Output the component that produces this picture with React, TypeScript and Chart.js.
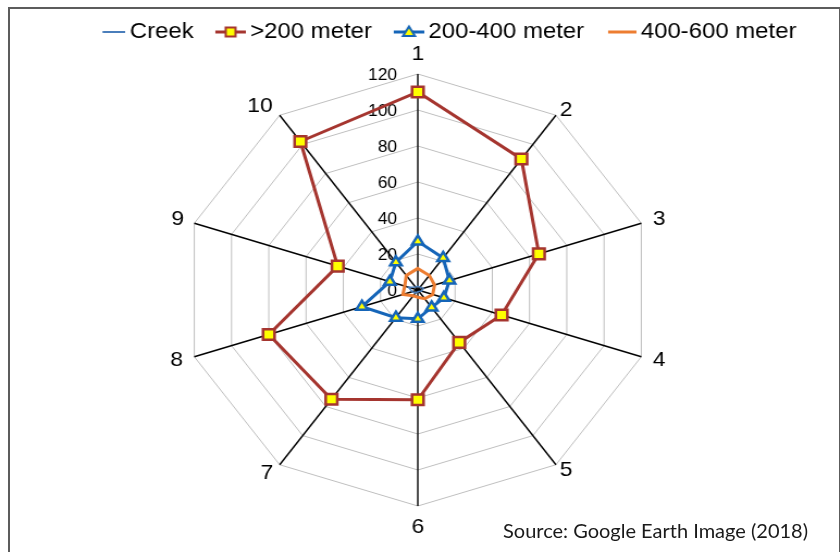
import React, { useEffect, useRef } from 'react';
import { Chart, registerables } from 'chart.js';

Chart.register(...registerables);

// Direction sectors around the creek
const DIRECTIONS = ['1', '2', '3', '4', '5', '6', '7', '8', '9', '10'];

// Series values per direction
const CREEK = [2, 2, 3, 2, 1, 1, 2, 3, 5, 2];
const OVER_200 = [110, 90, 65, 45, 36, 61, 75, 80, 43, 102];
const M200_400 = [27, 22, 17, 14, 12, 16, 19, 30, 15, 19];
const M400_600 = [12, 10, 9, 8, 6, 4, 4, 8, 7, 10];

const SERIES_NAMES = ['Creek', '>200 meter', '200-400 meter', '400-600 meter'];

// Radial axis range and tick labels
const R_MIN = 0;
const R_MAX = 120;
const R_STEP = 20;

const SOURCE_NOTE = 'Source: Google Earth Image (2018)';

const FONT = 'Arial, "Liberation Sans", Helvetica, sans-serif';
const RED = '#a5352f';
const BLUE = '#1565b8';
const LIGHT_BLUE = '#4a7ebb';
const ORANGE = '#ed7d31';
const YELLOW = '#ffff00';

// radial distance of each direction label beyond the outer ring
const LABEL_PAD = [19, 6, 11, 11, 6, 21, 10, 11, 10, 11];

type Marker = 'rect' | 'triangle' | undefined;

// legend swatch: short line with an optional marker in its middle
function makeIcon(color: string, lineW: number, len: number, marker?: Marker) {
  const c = document.createElement('canvas');
  const W = 54;
  const H = 18;
  c.width = W;
  c.height = H;
  const g = c.getContext('2d')!;
  g.strokeStyle = color;
  g.lineWidth = lineW;
  g.beginPath();
  g.moveTo(W - len, H / 2);
  g.lineTo(W, H / 2);
  g.stroke();
  const cx = W - len / 2;
  g.lineWidth = 2;
  g.fillStyle = YELLOW;
  if (marker === 'rect') {
    g.fillRect(cx - 4.5, H / 2 - 4.5, 9, 9);
    g.strokeRect(cx - 4.5, H / 2 - 4.5, 9, 9);
  } else if (marker === 'triangle') {
    g.beginPath();
    g.moveTo(cx, H / 2 - 5.5);
    g.lineTo(cx + 5.5, H / 2 + 4);
    g.lineTo(cx - 5.5, H / 2 + 4);
    g.closePath();
    g.fill();
    g.stroke();
  }
  return c;
}

// value labels to the left of the first spoke, including the zero
const tickLabelPlugin = {
  id: 'sideTickLabels',
  beforeDatasetsDraw(chart: any) {
    const scale = chart.scales.r;
    const ctx = chart.ctx;
    ctx.save();
    ctx.font = `16px ${FONT}`;
    ctx.fillStyle = '#000';
    ctx.textAlign = 'right';
    ctx.textBaseline = 'middle';
    for (const t of scale.ticks) {
      const y = scale.yCenter - scale.getDistanceFromCenterForValue(t.value);
      ctx.fillText(String(t.value), scale.xCenter - 19, y + 2);
    }
    ctx.restore();
  },
};

export default function App() {
  const ref = useRef<HTMLCanvasElement>(null);

  useEffect(() => {
    const canvas = ref.current;
    if (!canvas) return;
    const icons = [
      makeIcon(LIGHT_BLUE, 2, 21),
      makeIcon(RED, 3, 28, 'rect'),
      makeIcon(BLUE, 3, 28, 'triangle'),
      makeIcon(ORANGE, 3, 26),
    ];
    const chart = new Chart(canvas, {
      type: 'radar',
      data: {
        labels: DIRECTIONS,
        datasets: [
          {
            label: SERIES_NAMES[0],
            data: CREEK,
            borderColor: LIGHT_BLUE,
            borderWidth: 1.5,
            pointRadius: 0,
            fill: false,
          },
          {
            label: SERIES_NAMES[1],
            data: OVER_200,
            borderColor: RED,
            borderWidth: 3,
            pointStyle: 'rect',
            pointRadius: 7.5,
            pointBorderWidth: 2.5,
            pointBackgroundColor: YELLOW,
            pointBorderColor: RED,
            fill: false,
          },
          {
            label: SERIES_NAMES[2],
            data: M200_400,
            borderColor: BLUE,
            borderWidth: 3,
            pointStyle: 'triangle',
            pointRadius: 6,
            pointBorderWidth: 2.5,
            pointBackgroundColor: YELLOW,
            pointBorderColor: BLUE,
            fill: false,
          },
          {
            label: SERIES_NAMES[3],
            data: M400_600,
            borderColor: ORANGE,
            borderWidth: 3,
            pointRadius: 0,
            fill: false,
          },
        ],
      },
      options: {
        animation: false,
        responsive: true,
        maintainAspectRatio: false,
        layout: { padding: { top: 20, bottom: 23, left: 36, right: 39 } },
        elements: { line: { tension: 0 } },
        plugins: {
          tooltip: { enabled: false },
          legend: {
            position: 'top',
            align: 'end',
            labels: {
              usePointStyle: true,
              pointStyleWidth: 40,
              padding: 1,
              color: '#000',
              font: { size: 22, family: FONT },
              generateLabels: (ch: any) =>
                ch.data.datasets.map((ds: any, i: number) => ({
                  text: ds.label,
                  pointStyle: icons[i],
                  datasetIndex: i,
                  hidden: false,
                  lineWidth: 0,
                  strokeStyle: 'rgba(0,0,0,0)',
                  fillStyle: 'rgba(0,0,0,0)',
                  fontColor: '#000',
                })),
            },
          },
        },
        scales: {
          r: {
            min: R_MIN,
            max: R_MAX,
            ticks: { stepSize: R_STEP, display: false },
            grid: { color: '#bfbfbf', lineWidth: 1 },
            angleLines: { color: '#000', lineWidth: 1.4 },
            pointLabels: {
              color: '#000',
              font: { size: 21, family: FONT, lineHeight: '1px' },
              padding: (ctx: any) => LABEL_PAD[ctx.index] ?? 10,
            },
          },
        },
      } as any,
      plugins: [tickLabelPlugin],
    });
    return () => chart.destroy();
  }, []);

  return (
    <div
      style={{
        position: 'fixed',
        left: 0,
        top: 0,
        width: 840,
        height: 552,
        overflow: 'hidden',
        background: '#fff',
      }}
    >
      <div
        style={{
          position: 'absolute',
          left: 8,
          top: 7,
          width: 829,
          height: 600,
          borderLeft: '2px solid #5c5c5c',
          borderTop: '2px solid #5c5c5c',
          borderRight: '2px solid #5c5c5c',
        }}
      />
      <div
        style={{
          position: 'absolute',
          left: 0,
          top: 0,
          width: 772,
          height: 552,
          transform: 'scaleX(1.088)',
          transformOrigin: '0 0',
        }}
      >
        <canvas ref={ref} />
      </div>
      <div
        style={{
          position: 'absolute',
          left: 503,
          top: 518,
          fontFamily: 'Lato, "Open Sans", sans-serif',
          fontSize: 20,
          color: '#1a1a1a',
          whiteSpace: 'nowrap',
        }}
      >
        {SOURCE_NOTE}
      </div>
    </div>
  );
}
